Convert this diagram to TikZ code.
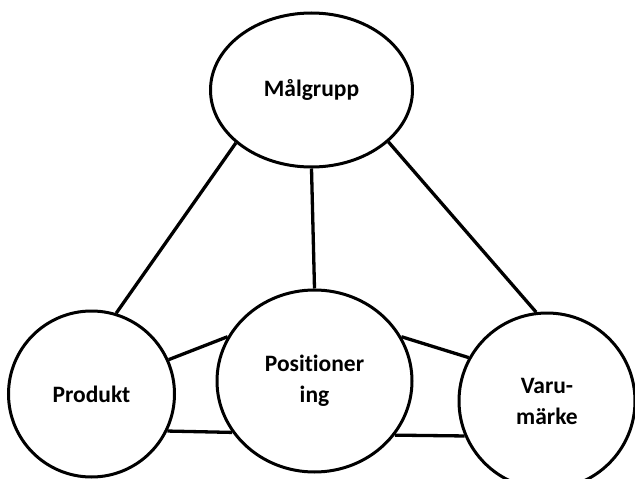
\documentclass[tikz,border=0pt]{standalone}
\usepackage{fontspec}
\setmainfont{Carlito}[Ligatures=NoCommon]
\usetikzlibrary{shapes.geometric}
\begin{document}
\begin{tikzpicture}[x=1pt,y=-1pt,
  bubble/.style={ellipse,draw=black,line width=3pt,fill=white,inner sep=0pt,
    align=center,font=\fontsize{23.5}{31}\selectfont\bfseries},
  link/.style={draw=black,line width=3.3pt}]
  \useasboundingbox (0,0) rectangle (635,479);
  \fill[white] (0,0) rectangle (635,479);

  % the four bubbles
  \node[bubble,minimum width=202pt,minimum height=154pt] (mal) at (311.5,90) {Målgrupp};
  \node[bubble,minimum width=166pt,minimum height=166pt] (prod) at (91.5,394) {Produkt};
  \node[bubble,minimum width=195pt,minimum height=182pt] (pos) at (314.5,381) {Positioner\\ing};
  \node[bubble,minimum width=176pt,minimum height=176pt] (varu) at (547,401) {Varu-\\märke};

  % spokes from the target group
  \draw[link] (mal.215) -- (prod.73);
  \draw[link] (mal.270) -- (pos.90);
  \draw[link] (mal.-34) -- (varu.97);

  % paired links along the bottom row
  \draw[link] (prod.24) -- (pos.153);
  \draw[link] (prod.-26) -- (pos.212.5);
  \draw[link] (pos.27) -- (varu.151);
  \draw[link] (pos.-34) -- (varu.203);
\end{tikzpicture}
\end{document}
